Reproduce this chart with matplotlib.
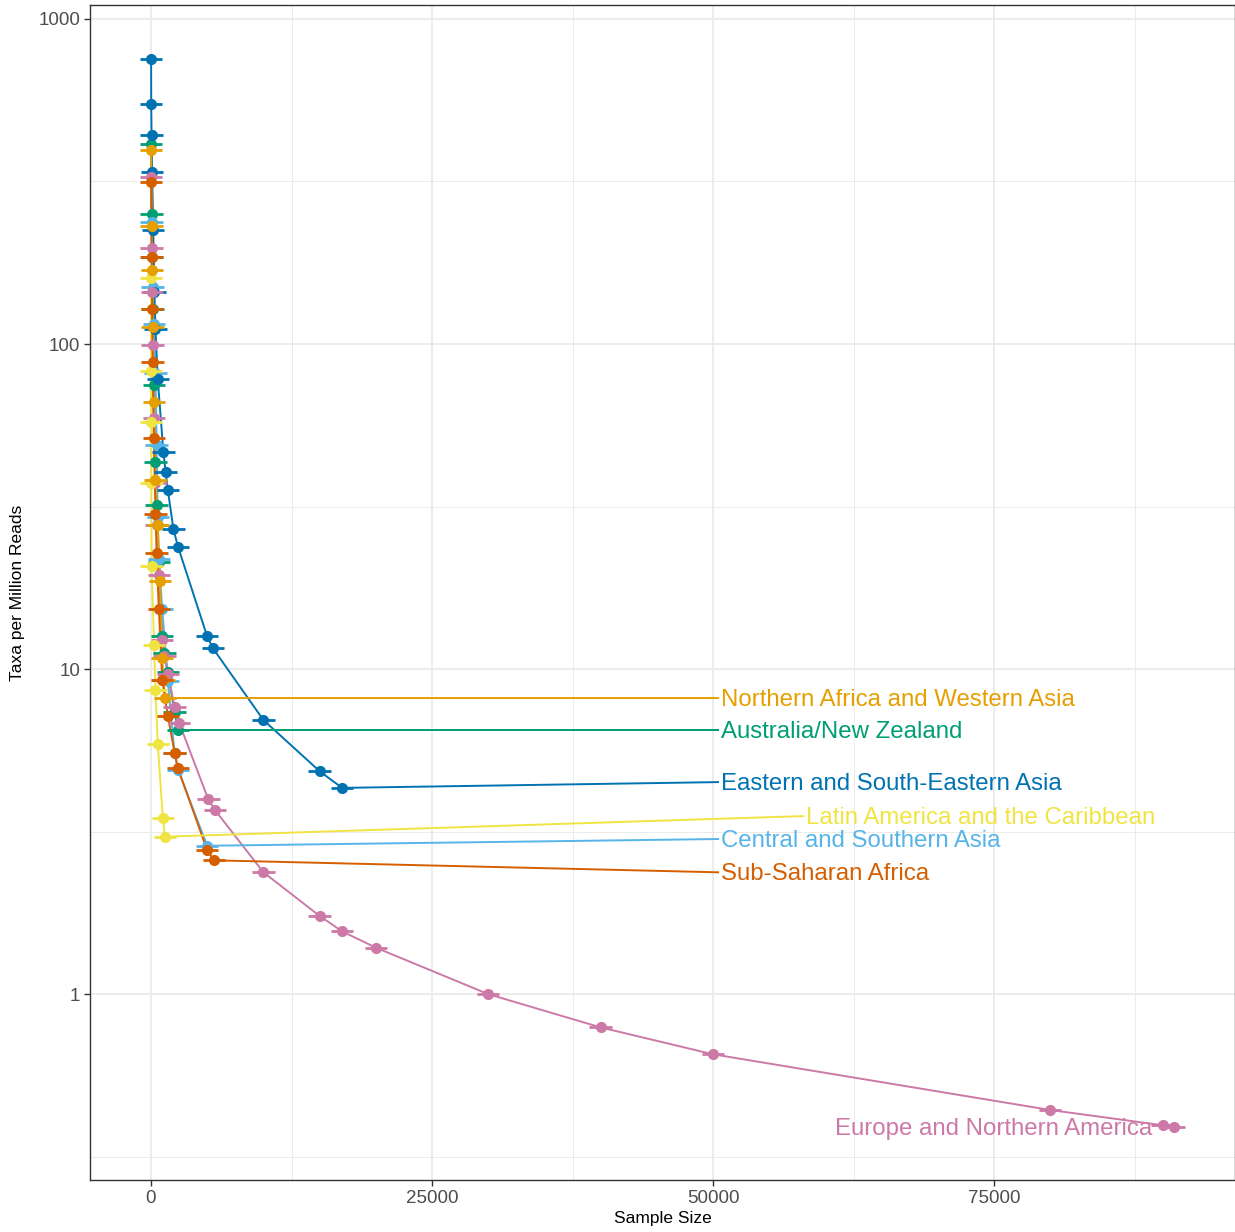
import matplotlib
matplotlib.use('Agg')
import matplotlib.pyplot as plt
import numpy as np
from matplotlib.ticker import FixedLocator, FuncFormatter

plt.rcParams['font.family'] = ['Liberation Sans', 'DejaVu Sans']

# taxa per million reads against sample size, one curve per region
regions = ['Australia/New Zealand', 'Central and Southern Asia',
           'Eastern and South-Eastern Asia', 'Europe and Northern America',
           'Latin America and the Caribbean', 'Northern Africa and Western Asia',
           'Sub-Saharan Africa']

colors = ['#009E73', '#56B4E9', '#0072B2', '#CC79A7', '#F0E442', '#E69F00', '#D55E00']

anz_n = [20, 60, 100, 150, 250, 400, 500, 700, 1000, 1200, 1500, 2100, 2400]
anz_taxa = [411, 251, 185, 128, 74.8, 43.5, 32, 21.4, 12.6, 11.2, 9.8, 7.36, 6.49]

csa_n = [60, 150, 250, 400, 500, 600, 700, 1000, 1500, 2100, 2400, 5000]
csa_taxa = [238, 150, 115, 81.3, 48.9, 29.4, 21.8, 15.3, 9.2, 5.5, 4.9, 2.86]

ese_n = [10, 20, 50, 100, 200, 300, 400, 600, 1100, 1300, 1500, 2000, 2400,
         5000, 5500, 10000, 15000, 17000]
ese_taxa = [753, 548, 441, 339, 224, 145, 111, 78, 46.6, 40.5, 35.5, 26.9, 23.8,
            12.6, 11.6, 6.97, 4.85, 4.31]

ena_n = [20, 60, 100, 150, 250, 400, 500, 700, 1000, 1200, 1500, 2100, 2500,
         5100, 5700, 10000, 15000, 17000, 20000, 30000, 40000, 50000, 80000,
         90000, 91000]
ena_taxa = [326, 197, 145, 99.3, 59.3, 37.3, 27.7, 19.5, 12.3, 11.0, 9.66, 7.66,
            6.84, 3.97, 3.68, 2.37, 1.74, 1.56, 1.39, 1.0, 0.79, 0.653, 0.44,
            0.395, 0.39]

lac_n = [5, 10, 20, 30, 60, 270, 400, 600, 1050, 1250]
lac_taxa = [160, 82.8, 57.6, 37.3, 20.8, 11.9, 8.6, 5.9, 3.49, 3.05]

nawa_n = [20, 60, 100, 150, 250, 400, 600, 800, 1000, 1100, 1250]
nawa_taxa = [395, 231, 169, 112.5, 66.4, 38.2, 27.7, 18.7, 10.8, 9.25, 8.13]

ssa_n = [20, 60, 100, 150, 250, 400, 500, 700, 1000, 1500, 2100, 2400, 5000, 5600]
ssa_taxa = [314, 185, 128, 88.3, 51.3, 30.1, 22.7, 15.3, 9.25, 7.17, 5.53, 4.95,
            2.77, 2.58]

# half width of the horizontal error bars (sample size units)
err_half = 1000

# where each region's name sits: (x, y, horizontal alignment)
label_x = [50700, 50700, 50700, 89100, 58300, 50700, 50700]
label_y = [6.49, 3.0, 4.49, 0.39, 3.53, 8.13, 2.37]
label_ha = ['left', 'left', 'left', 'right', 'left', 'left', 'left']

series_n = [anz_n, csa_n, ese_n, ena_n, lac_n, nawa_n, ssa_n]
series_taxa = [anz_taxa, csa_taxa, ese_taxa, ena_taxa, lac_taxa, nawa_taxa, ssa_taxa]

fig = plt.figure(figsize=(12.35, 12.32), dpi=100)
ax = fig.add_axes([90 / 1235, 1 - 1180 / 1232, 1145 / 1235, 1175 / 1232])

for name, col, n, taxa in zip(regions, colors, series_n, series_taxa):
    ax.plot(n, taxa, color=col, lw=1.4, zorder=3)
for name, col, n, taxa in zip(regions, colors, series_n, series_taxa):
    ax.plot(n, taxa, 'o', color=col, ms=7, zorder=4)
    n = np.array(n)
    ax.hlines(taxa, n - err_half, n + err_half, color=col, lw=2.0, zorder=4)

# repelled labels with a segment from the last point
for name, col, n, taxa, lx, ly, ha in zip(regions, colors, series_n, series_taxa,
                                         label_x, label_y, label_ha):
    if ha == 'left':
        ax.plot([n[-1], lx - 250], [taxa[-1], ly], color=col, lw=1.4, zorder=3)
    # nudge down a touch so the glyphs sit centred on the segment
    ax.text(lx, ly * 0.986, name, color=col, fontsize=17.3, ha=ha, va='center',
            zorder=5)

ax.set_yscale('log')
ax.set_xlim(-5427, 96441)
ax.set_ylim(0.268, 1104)

ax.yaxis.set_major_locator(FixedLocator([1, 10, 100, 1000]))
ax.yaxis.set_minor_locator(FixedLocator([10 ** -0.5, 10 ** 0.5, 10 ** 1.5, 10 ** 2.5]))
ax.yaxis.set_major_formatter(FuncFormatter(lambda v, p: '%g' % v))
ax.yaxis.set_minor_formatter(FuncFormatter(lambda v, p: ''))
ax.xaxis.set_major_locator(FixedLocator([0, 25000, 50000, 75000]))
ax.xaxis.set_minor_locator(FixedLocator([12500, 37500, 62500, 87500]))
ax.xaxis.set_major_formatter(FuncFormatter(lambda v, p: '%d' % v))

ax.grid(True, which='major', color='#EBEBEB', lw=1.3, zorder=0)
ax.grid(True, which='minor', color='#EBEBEB', lw=0.7, zorder=0)
ax.set_axisbelow(True)

for s in ax.spines.values():
    s.set_color('#333333')
    s.set_linewidth(1.0)
ax.tick_params(which='major', length=4, width=1.0, color='#333333',
               labelsize=13.5, labelcolor='#4D4D4D', pad=3)
ax.tick_params(which='minor', length=0)

ax.set_xlabel('Sample Size', fontsize=12.5, color='black', labelpad=3)
ax.set_ylabel('Taxa per Million Reads', fontsize=12.5, color='black', labelpad=10)

fig.savefig('out.png', dpi=100)
